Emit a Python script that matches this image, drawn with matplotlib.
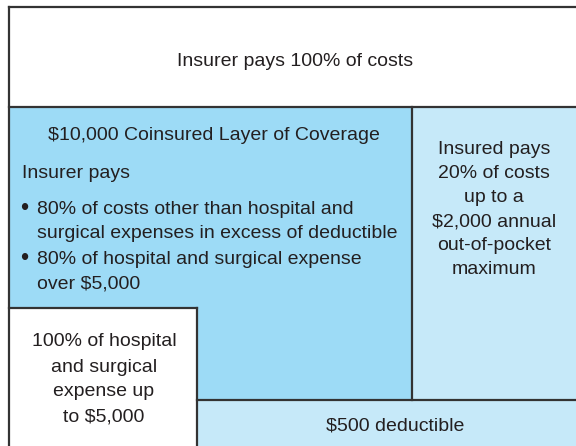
import matplotlib
matplotlib.use("Agg")
import matplotlib.pyplot as plt
from matplotlib.patches import Rectangle, Polygon

# ---- content ----
top_label = "Insurer pays 100% of costs"
coins_title = "$10,000 Coinsured Layer of Coverage"
coins_head = "Insurer pays"
coins_lines = ["80% of costs other than hospital and",
               "surgical expenses in excess of deductible",
               "80% of hospital and surgical expense",
               "over $5,000"]
coins_bullets = [True, False, True, False]
insured_lines = ["Insured pays", "20% of costs", "up to a",
                 "$2,000 annual", "out-of-pocket", "maximum"]
hosp_lines = ["100% of hospital", "and surgical", "expense up", "to $5,000"]
deduct_label = "$500 deductible"

# ---- styles ----
DARK = "#9ddbf6"
LIGHT = "#c6e9f9"
EDGE = "#333333"
TXT = "#231f20"
FONT = ["Liberation Sans", "DejaVu Sans"]
FS = 14

W, H = 576, 446
fig = plt.figure(figsize=(W / 100, H / 100), dpi=100)
ax = fig.add_axes([0, 0, 1, 1])
ax.set_xlim(0, W)
ax.set_ylim(H, 0)
ax.axis("off")

L, T, R = 9, 7, 580
Y1, XV, Y2, XW, YW = 107, 412, 400, 197, 308

# fills
ax.add_patch(Rectangle((L, T), R - L, Y1 - T, fc="white", ec="none"))
ax.add_patch(Polygon([(L, Y1), (XV, Y1), (XV, Y2), (XW, Y2), (XW, YW), (L, YW)],
                     closed=True, fc=DARK, ec="none"))
ax.add_patch(Polygon([(XV, Y1), (R, Y1), (R, H + 5), (XW, H + 5), (XW, Y2), (XV, Y2)],
                     closed=True, fc=LIGHT, ec="none"))
ax.add_patch(Rectangle((L, YW), XW - L, H + 5 - YW, fc="white", ec="none"))

# lines
lw = 1.6
segs = [((L, L), (T, H + 5)), ((L, R), (T, T)), ((L, R), (Y1, Y1)),
        ((XV, XV), (Y1, Y2)), ((XW, R), (Y2, Y2)), ((XW, XW), (YW, H + 5)),
        ((L, XW), (YW, YW))]
for xs, ys in segs:
    ax.plot(xs, ys, color=EDGE, lw=lw, solid_capstyle="projecting")

d = 2
kw = dict(fontsize=FS, color=TXT, family=FONT, va="center")
ax.text(295, 60 + d, top_label, ha="center", **kw)
ax.text(214, 133 + d, coins_title, ha="center", **kw)
ax.text(22, 172 + d, coins_head, ha="left", **kw)
for i, (line, b) in enumerate(zip(coins_lines, coins_bullets)):
    y = 207 + 25 * i + d
    if b:
        ax.text(20, y, "\u2022", ha="left", fontsize=FS + 3, color=TXT,
                family=FONT, va="center")
    ax.text(37, y, line, ha="left", **kw)
for i, line in enumerate(insured_lines):
    ax.text(494, 148 + 24 * i + d, line, ha="center", **kw)
for i, line in enumerate(hosp_lines):
    ax.text(104, 340 + 25 * i + d, line, ha="center", **kw)
ax.text(395, 424 + d, deduct_label, ha="center", **kw)

fig.savefig("out.png", dpi=100)
